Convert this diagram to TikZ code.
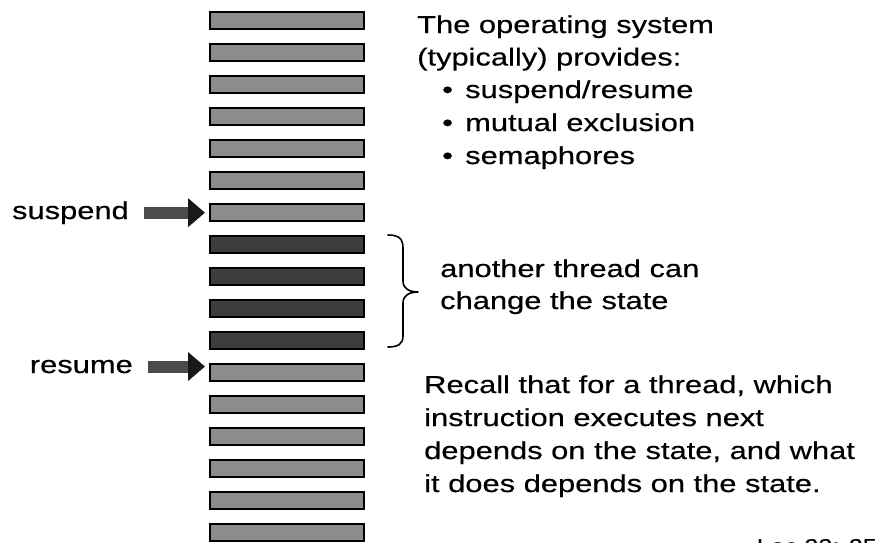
\documentclass[tikz,border=0pt]{standalone}
\usepackage{fontspec}
\setmainfont{Liberation Sans}[FakeStretch=1.26,FakeBold=0.4]
\usetikzlibrary{arrows.meta}
\begin{document}
\begin{tikzpicture}[x=1pt,y=-1pt,
  txt/.style={inner sep=0pt, anchor=base west, font=\fontsize{24.5}{30}\selectfont},
  instr/.style={draw=black, line width=2pt, minimum width=154pt, minimum height=16.5pt,
                inner sep=0pt, anchor=north west},
  lightbar/.style={instr, fill=black!45},
  darkbar/.style={instr, fill=black!76},
  blockarrow/.style={line width=12pt, draw=black!70,
     -{Triangle[length=17pt,width=28pt,color=black!90,fill=black!90]},
     shorten <=15pt, shorten >=4pt},
  bracepath/.style={draw=black, line width=1.6pt, line cap=round, line join=round}
]
\useasboundingbox (0,0) rectangle (878,542);
\fill[white] (0,0) rectangle (878,542);
\clip (0,0) rectangle (878,542);

% the instruction stream
\foreach \k in {0,...,6,11,12,...,16}
  \node[lightbar] (b\k) at (209,{11+32*\k}) {};
\foreach \k in {7,...,10}
  \node[darkbar] (b\k) at (209,{11+32*\k}) {};

% suspend / resume markers
\node[txt, anchor=base east] (sus) at (129,219) {suspend};
\node[txt, anchor=base east] (res) at (133,373) {resume};
\draw[blockarrow] (sus.east) -- (sus.east -| b6.west);
\draw[blockarrow] (res.east) -- (res.east -| b11.west);

% brace over the instructions run by another thread
\coordinate (brtop) at (388,235);
\coordinate (brtip) at (418,292);
\coordinate (brbot) at (388,347);
\draw[bracepath] (brtop) .. controls (398,235) and (403,238) .. (403,248)
  -- (403,281) .. controls (403,289) and (410,292) .. (brtip)
  .. controls (410,292) and (403,295) .. (403,303)
  -- (403,336) .. controls (403,344) and (398,347) .. (brbot);

% explanatory text
\node[txt] (os1) at (417,33) {The operating system};
\node[txt] (os2) at (417,65.5) {(typically) provides:};
\foreach \y/\w/\n in {98/suspend\slash resume/i1, 131/mutual exclusion/i2, 164/semaphores/i3}{
  \node[txt] (\n dot) at (442,\y) {•};
  \node[txt] (\n) at (465,\y) {\w};
}
\node[txt] (oth1) at (440,277) {another thread can};
\node[txt] (oth2) at (440,309) {change the state};
\node[txt] (rc1) at (424,393) {Recall that for a thread, which};
\node[txt] (rc2) at (424,426) {instruction executes next};
\node[txt] (rc3) at (424,459) {depends on the state, and what};
\node[txt] (rc4) at (424,492) {it does depends on the state.};

\node[inner sep=0pt, anchor=base east, font=\fontsize{20}{20}\selectfont] (lec) at (877,553) {Lec 23: 25};
\end{tikzpicture}
\end{document}
